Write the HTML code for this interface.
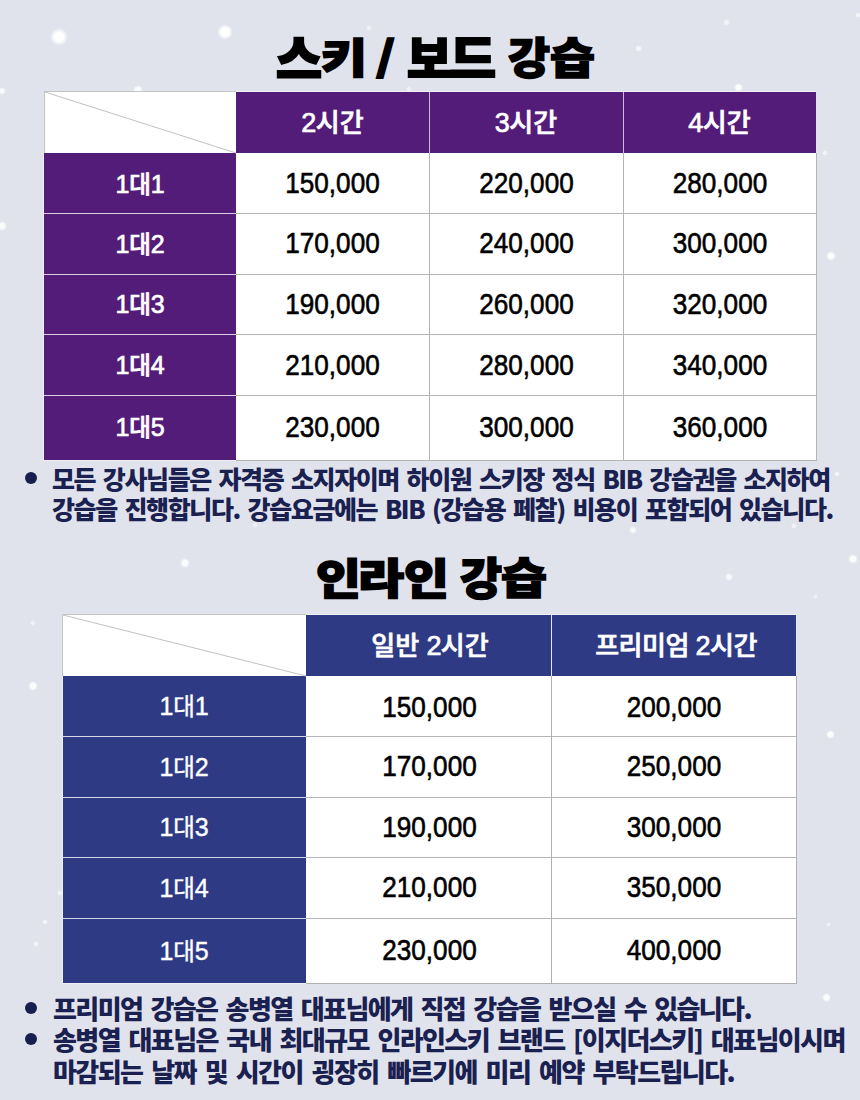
<!DOCTYPE html>
<html>
<head>
<meta charset="utf-8">
<title>스키 / 보드 강습</title>
<style>
html,body{margin:0;padding:0;}
body{width:860px;height:1100px;overflow:hidden;position:relative;background:#e0e3ec;
  font-family:"Liberation Sans","Noto Sans CJK KR",sans-serif;}
.abs{position:absolute;}
.snow{position:absolute;border-radius:50%;background:radial-gradient(circle closest-side,#fff 0,#fff 50%,rgba(255,255,255,0) 100%);}
.tg{position:absolute;font-family:"Noto Sans CJK KR",sans-serif;font-weight:900;font-size:50px;line-height:60px;white-space:nowrap;color:#000;-webkit-text-stroke:2px #000;}
.cell{position:absolute;display:flex;align-items:center;justify-content:center;white-space:nowrap;box-sizing:border-box;}
.num{font-family:"Liberation Sans","Noto Sans CJK KR",sans-serif;font-size:29px;color:#000;-webkit-text-stroke:0.6px #000;padding-top:1px;transform:scaleX(0.9);}
.hd{font-family:"Liberation Sans","Noto Sans CJK KR",sans-serif;color:#fff;font-size:25px;font-weight:500;-webkit-text-stroke:0.7px #fff;}
.dg{font-size:26.5px;letter-spacing:-0.6px;}
.th{padding-bottom:4px;letter-spacing:0px;font-size:26px;}
.th .dg{font-size:27px;}
.rh{font-size:23.5px;}
.rh .dg{font-size:25px;letter-spacing:-0.3px;}
.rh2{font-weight:400;-webkit-text-stroke:0.4px #fff;padding-bottom:3px;}
.hline{position:absolute;height:1px;}
.vline{position:absolute;width:1px;}
.note{position:absolute;left:53px;white-space:nowrap;color:#1a204f;font-family:"Noto Sans CJK KR",sans-serif;font-weight:900;
  font-size:25px;line-height:30px;transform-origin:0 0;}
.bullet{position:absolute;width:12px;height:12px;border-radius:50%;background:#181f4e;}
</style>
</head>
<body>
<!-- snow -->
<div class="snow" style="left:49.8px;top:28.0px;width:18px;height:18px;opacity:1"></div>
<div class="snow" style="left:217.4px;top:23.6px;width:16px;height:16px;opacity:1"></div>
<div class="snow" style="left:133.0px;top:84.6px;width:10px;height:10px;opacity:0.9"></div>
<div class="snow" style="left:-2.0px;top:87.0px;width:8px;height:8px;opacity:0.8"></div>
<div class="snow" style="left:722.5px;top:18.5px;width:7px;height:7px;opacity:0.6"></div>
<div class="snow" style="left:634.5px;top:44.5px;width:7px;height:7px;opacity:0.7"></div>
<div class="snow" style="left:733.5px;top:82.5px;width:9px;height:9px;opacity:0.9"></div>
<div class="snow" style="left:854.5px;top:11.6px;width:6px;height:6px;opacity:0.6"></div>
<div class="snow" style="left:366.0px;top:25.0px;width:6px;height:6px;opacity:0.5"></div>
<div class="snow" style="left:-3.3px;top:221.4px;width:10px;height:10px;opacity:0.9"></div>
<div class="snow" style="left:822.0px;top:150.0px;width:6px;height:6px;opacity:0.6"></div>
<div class="snow" style="left:826.0px;top:251.0px;width:10px;height:10px;opacity:0.9"></div>
<div class="snow" style="left:180.0px;top:557.5px;width:10px;height:10px;opacity:0.9"></div>
<div class="snow" style="left:628.5px;top:526.0px;width:8px;height:8px;opacity:0.8"></div>
<div class="snow" style="left:791.0px;top:523.0px;width:6px;height:6px;opacity:0.6"></div>
<div class="snow" style="left:725.0px;top:572.5px;width:8px;height:8px;opacity:0.8"></div>
<div class="snow" style="left:847.5px;top:554.0px;width:10px;height:10px;opacity:0.9"></div>
<div class="snow" style="left:812.5px;top:593.5px;width:5px;height:5px;opacity:0.5"></div>
<div class="snow" style="left:834.0px;top:471.0px;width:6px;height:6px;opacity:0.6"></div>
<div class="snow" style="left:29.6px;top:620.0px;width:6px;height:6px;opacity:0.5"></div>
<div class="snow" style="left:27.6px;top:680.5px;width:10px;height:10px;opacity:0.9"></div>
<div class="snow" style="left:56.6px;top:889.6px;width:6px;height:6px;opacity:0.6"></div>
<div class="snow" style="left:42.4px;top:919.0px;width:6px;height:6px;opacity:0.6"></div>
<div class="snow" style="left:32.5px;top:941.4px;width:6px;height:6px;opacity:0.6"></div>
<div class="snow" style="left:825.5px;top:730.0px;width:9px;height:9px;opacity:0.9"></div>
<div class="snow" style="left:825.5px;top:922.2px;width:5px;height:5px;opacity:0.5"></div>
<div class="snow" style="left:822.2px;top:993.0px;width:9px;height:9px;opacity:0.9"></div>
<div class="snow" style="left:252.0px;top:522.0px;width:6px;height:6px;opacity:0.5"></div>
<div class="snow" style="left:405.5px;top:86.0px;width:6px;height:6px;opacity:0.5"></div>

<div class="ttl"><div class="tg" style="left:276px;top:26px;transform-origin:1px 11px;transform:scale(1.000,1.000)">스</div>
<div class="tg" style="left:321px;top:29px;transform-origin:1px 8px;transform:scale(1.000,0.820)">키</div>
<div class="tg" style="left:376px;top:27px;transform-origin:0px 10px;transform:scale(1.000,0.808)">/</div>
<div class="tg" style="left:407px;top:26px;transform-origin:1px 11px;transform:scale(0.977,0.976)">보</div>
<div class="tg" style="left:450px;top:25px;transform-origin:1px 12px;transform:scale(1.000,1.000)">드</div>
<div class="tg" style="left:508px;top:28px;transform-origin:0px 9px;transform:scale(0.913,0.857)">강</div>
<div class="tg" style="left:550px;top:28px;transform-origin:1px 9px;transform:scale(0.977,0.857)">습</div></div>

<!-- TABLE 1 -->
<div class="abs" style="left:44px;top:91px;width:773px;height:370px;background:#fff"></div>
<!-- purple header -->
<div class="abs" style="left:236px;top:92px;width:580px;height:61px;background:#521c78"></div>
<!-- purple row header -->
<div class="abs" style="left:44px;top:153px;width:192px;height:307px;background:#521c78"></div>
<div class="vline" style="left:43px;top:153px;height:308px;background:#eceef3"></div>
<!-- grid lines gray -->
<div class="hline" style="left:44px;top:91px;width:192px;background:#c4c4c4"></div>
<div class="vline" style="left:44px;top:91px;height:62px;background:#c4c4c4"></div>
<div class="hline" style="left:236px;top:91px;width:581px;background:#eef0f3"></div>
<div class="vline" style="left:816px;top:91px;height:62px;background:#e6e2ec"></div>
<div class="vline" style="left:429px;top:92px;height:61px;background:#cbbcd8"></div>
<div class="vline" style="left:623px;top:92px;height:61px;background:#cbbcd8"></div>
<div class="vline" style="left:429px;top:153px;height:308px;background:#b4b4b4"></div>
<div class="vline" style="left:623px;top:153px;height:308px;background:#b4b4b4"></div>
<div class="vline" style="left:816px;top:153px;height:308px;background:#b4b4b4"></div>
<div class="hline" style="left:236px;top:213px;width:581px;background:#b4b4b4"></div>
<div class="hline" style="left:236px;top:274px;width:581px;background:#b4b4b4"></div>
<div class="hline" style="left:236px;top:334px;width:581px;background:#b4b4b4"></div>
<div class="hline" style="left:236px;top:395px;width:581px;background:#b4b4b4"></div>
<div class="hline" style="left:236px;top:460px;width:581px;background:#b4b4b4"></div>
<div class="hline" style="left:44px;top:213px;width:192px;background:#d9cde3"></div>
<div class="hline" style="left:44px;top:274px;width:192px;background:#d9cde3"></div>
<div class="hline" style="left:44px;top:334px;width:192px;background:#d9cde3"></div>
<div class="hline" style="left:44px;top:395px;width:192px;background:#d9cde3"></div>
<div class="hline" style="left:44px;top:460px;width:192px;background:#eceef3"></div>
<!-- diagonal -->
<svg class="abs" style="left:44px;top:91px" width="193" height="63"><line x1="1" y1="1" x2="192" y2="62" stroke="#c2c2c2" stroke-width="1"/></svg>

<div class="cell hd th" style="left:236px;top:92px;width:193px;height:61px"><span><span class="dg">2</span>시간</span></div>
<div class="cell hd th" style="left:429px;top:92px;width:194px;height:61px"><span><span class="dg">3</span>시간</span></div>
<div class="cell hd th" style="left:623px;top:92px;width:193px;height:61px"><span><span class="dg">4</span>시간</span></div>

<div class="cell hd rh" style="left:44px;top:153px;width:192px;height:60px"><span><span class="dg">1</span>대<span class="dg">1</span></span></div>
<div class="cell hd rh" style="left:44px;top:213px;width:192px;height:60px"><span><span class="dg">1</span>대<span class="dg">2</span></span></div>
<div class="cell hd rh" style="left:44px;top:273px;width:192px;height:60px"><span><span class="dg">1</span>대<span class="dg">3</span></span></div>
<div class="cell hd rh" style="left:44px;top:334px;width:192px;height:59px"><span><span class="dg">1</span>대<span class="dg">4</span></span></div>
<div class="cell hd rh" style="left:44px;top:394px;width:192px;height:64px"><span><span class="dg">1</span>대<span class="dg">5</span></span></div>

<div class="cell num" style="left:236px;top:153px;width:193px;height:60px">150,000</div>
<div class="cell num" style="left:430px;top:153px;width:193px;height:60px">220,000</div>
<div class="cell num" style="left:624px;top:153px;width:192px;height:60px">280,000</div>
<div class="cell num" style="left:236px;top:213px;width:193px;height:60px">170,000</div>
<div class="cell num" style="left:430px;top:213px;width:193px;height:60px">240,000</div>
<div class="cell num" style="left:624px;top:213px;width:192px;height:60px">300,000</div>
<div class="cell num" style="left:236px;top:274px;width:193px;height:60px">190,000</div>
<div class="cell num" style="left:430px;top:274px;width:193px;height:60px">260,000</div>
<div class="cell num" style="left:624px;top:274px;width:192px;height:60px">320,000</div>
<div class="cell num" style="left:236px;top:335px;width:193px;height:59px">210,000</div>
<div class="cell num" style="left:430px;top:335px;width:193px;height:59px">280,000</div>
<div class="cell num" style="left:624px;top:335px;width:192px;height:59px">340,000</div>
<div class="cell num" style="left:236px;top:395px;width:193px;height:64px">230,000</div>
<div class="cell num" style="left:430px;top:395px;width:193px;height:64px">300,000</div>
<div class="cell num" style="left:624px;top:395px;width:192px;height:64px">360,000</div>

<!-- NOTE 1 -->
<div class="bullet" style="left:25px;top:472px"></div>
<div class="note" style="left:52px;top:463px;letter-spacing:-1.4px;word-spacing:3.33px">모든 강사님들은 자격증 소지자이며 하이원 스키장 정식 BIB 강습권을 소지하여</div>
<div class="note" style="left:52px;top:493px;letter-spacing:-1.4px;word-spacing:3.38px">강습을 진행합니다. 강습요금에는 BIB (강습용 페찰) 비용이 포함되어 있습니다.</div>

<div class="ttl"><div class="tg" style="left:316px;top:549px;transform-origin:1px 8px;transform:scale(0.976,0.857)">인</div>
<div class="tg" style="left:358px;top:549px;transform-origin:3px 8px;transform:scale(1.000,0.840)">라</div>
<div class="tg" style="left:404px;top:549px;transform-origin:1px 8px;transform:scale(0.976,0.857)">인</div>
<div class="tg" style="left:460px;top:548px;transform-origin:0px 9px;transform:scale(0.913,0.878)">강</div>
<div class="tg" style="left:501px;top:548px;transform-origin:1px 9px;transform:scale(1.000,0.857)">습</div></div>

<!-- TABLE 2 -->
<div class="abs" style="left:62px;top:614px;width:735px;height:370px;background:#fff"></div>
<div class="abs" style="left:306px;top:615px;width:490px;height:61px;background:#2e3a84"></div>
<div class="abs" style="left:63px;top:676px;width:243px;height:307px;background:#2e3a84"></div>
<div class="vline" style="left:62px;top:676px;height:308px;background:#eceef3"></div>
<div class="hline" style="left:62px;top:614px;width:244px;background:#c4c4c4"></div>
<div class="vline" style="left:62px;top:614px;height:62px;background:#c4c4c4"></div>
<div class="hline" style="left:306px;top:614px;width:491px;background:#eef0f3"></div>
<div class="vline" style="left:796px;top:614px;height:62px;background:#e6e8ef"></div>
<div class="vline" style="left:551px;top:615px;height:61px;background:#e8e9f0"></div>
<div class="vline" style="left:551px;top:676px;height:308px;background:#b0b0b0"></div>
<div class="vline" style="left:796px;top:676px;height:308px;background:#b0b0b0"></div>
<div class="hline" style="left:306px;top:736px;width:491px;background:#b4b4b4"></div>
<div class="hline" style="left:306px;top:797px;width:491px;background:#b4b4b4"></div>
<div class="hline" style="left:306px;top:857px;width:491px;background:#b4b4b4"></div>
<div class="hline" style="left:306px;top:918px;width:491px;background:#b4b4b4"></div>
<div class="hline" style="left:306px;top:983px;width:491px;background:#b0b0b0"></div>
<div class="hline" style="left:62px;top:736px;width:244px;background:#d4d8e8"></div>
<div class="hline" style="left:62px;top:797px;width:244px;background:#d4d8e8"></div>
<div class="hline" style="left:62px;top:857px;width:244px;background:#d4d8e8"></div>
<div class="hline" style="left:62px;top:918px;width:244px;background:#d4d8e8"></div>
<div class="hline" style="left:62px;top:983px;width:244px;background:#eceef3"></div>
<svg class="abs" style="left:62px;top:614px" width="245" height="63"><line x1="1" y1="1" x2="244" y2="62" stroke="#c2c2c2" stroke-width="1"/></svg>

<div class="cell hd th" style="left:306px;top:615px;width:245px;height:61px;padding-left:3px"><span>일반 <span class="dg">2</span>시간</span></div>
<div class="cell hd th" style="left:551px;top:615px;width:245px;height:61px;padding-left:5px;letter-spacing:-0.5px"><span>프리미엄 <span class="dg">2</span>시간</span></div>

<div class="cell hd rh rh2" style="left:62px;top:676px;width:244px;height:61px"><span><span class="dg">1</span>대<span class="dg">1</span></span></div>
<div class="cell hd rh rh2" style="left:62px;top:737px;width:244px;height:60px"><span><span class="dg">1</span>대<span class="dg">2</span></span></div>
<div class="cell hd rh rh2" style="left:62px;top:798px;width:244px;height:59px"><span><span class="dg">1</span>대<span class="dg">3</span></span></div>
<div class="cell hd rh rh2" style="left:62px;top:858px;width:244px;height:60px"><span><span class="dg">1</span>대<span class="dg">4</span></span></div>
<div class="cell hd rh rh2" style="left:62px;top:920px;width:244px;height:63px"><span><span class="dg">1</span>대<span class="dg">5</span></span></div>

<div class="cell num" style="left:307px;top:676px;width:245px;height:61px">150,000</div>
<div class="cell num" style="left:552px;top:676px;width:244px;height:61px">200,000</div>
<div class="cell num" style="left:307px;top:736px;width:245px;height:60px">170,000</div>
<div class="cell num" style="left:552px;top:736px;width:244px;height:60px">250,000</div>
<div class="cell num" style="left:307px;top:797px;width:245px;height:59px">190,000</div>
<div class="cell num" style="left:552px;top:797px;width:244px;height:59px">300,000</div>
<div class="cell num" style="left:307px;top:857px;width:245px;height:60px">210,000</div>
<div class="cell num" style="left:552px;top:857px;width:244px;height:60px">350,000</div>
<div class="cell num" style="left:307px;top:918px;width:245px;height:63px">230,000</div>
<div class="cell num" style="left:552px;top:918px;width:244px;height:63px">400,000</div>

<!-- NOTE 2 -->
<div class="bullet" style="left:25px;top:1002px"></div>
<div class="bullet" style="left:25px;top:1033px"></div>
<div class="note" style="top:993px;font-size:26px;letter-spacing:-1.6px;word-spacing:3.83px">프리미엄 강습은 송병열 대표님에게 직접 강습을 받으실 수 있습니다.</div>
<div class="note" style="top:1024px;font-size:26px;letter-spacing:-1.6px;word-spacing:4.2px">송병열 대표님은 국내 최대규모 인라인스키 브랜드 [이지더스키] 대표님이시며</div>
<div class="note" style="top:1056px;font-size:26px;letter-spacing:-1.6px;word-spacing:4.5px">마감되는 날짜 및 시간이 굉장히 빠르기에 미리 예약 부탁드립니다.</div>
</body>
</html>
